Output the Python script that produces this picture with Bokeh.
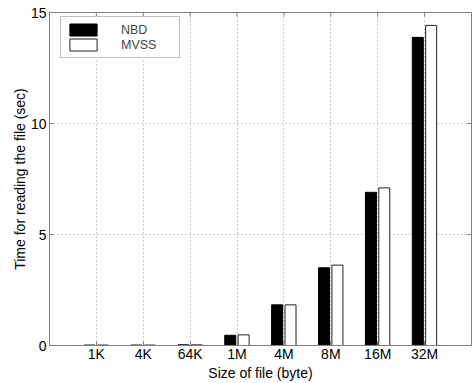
from bokeh.plotting import figure
from bokeh.models import Range1d, FixedTicker, Legend, LegendItem
from bokeh.embed import file_html
from bokeh.resources import INLINE

sizes = ["1K", "4K", "64K", "1M", "4M", "8M", "16M", "32M"]
nbd = [0.02, 0.02, 0.03, 0.46, 1.83, 3.50, 6.90, 13.88]
mvss = [0.02, 0.02, 0.03, 0.48, 1.83, 3.62, 7.10, 14.42]
y_ticks = [0, 5, 10, 15]

FONT = "Liberation Sans"
GRAY = "#7f7f7f"
W, H = 472, 383
LEFT, RIGHT, TOP, BOTTOM = 49, 1, 12, 38

pos = list(range(1, len(sizes) + 1))
x_end = len(sizes) + 1
y_end = y_ticks[-1]

p = figure(width=W, height=H, output_backend="svg", toolbar_location=None,
           x_range=Range1d(0, x_end), y_range=Range1d(0, y_end),
           min_border_left=LEFT, min_border_right=RIGHT,
           min_border_top=TOP, min_border_bottom=BOTTOM)

bw = 0.235
r1 = p.vbar(x=[v - 0.145 for v in pos], top=nbd, width=bw,
            fill_color="black", line_color="black", line_width=1)
r2 = p.vbar(x=[v + 0.14 for v in pos], top=mvss, width=bw,
            fill_color="white", line_color="#222222", line_width=1)

p.outline_line_color = GRAY
p.outline_line_width = 1

for ax in (p.xaxis[0], p.yaxis[0]):
    ax.axis_line_color = GRAY
    ax.major_tick_line_color = GRAY
    ax.major_tick_in = 4
    ax.major_tick_out = 0
    ax.minor_tick_line_color = None
    ax.major_label_text_font = FONT
    ax.major_label_text_font_size = "14px"
    ax.major_label_text_color = "black"
    ax.axis_label_text_font = FONT
    ax.axis_label_text_font_size = "14px"
    ax.axis_label_text_font_style = "normal"
    ax.axis_label_text_color = "black"

p.yaxis[0].ticker = FixedTicker(ticks=y_ticks)
p.yaxis[0].axis_label = "Time for reading the file (sec)"
p.yaxis[0].axis_label_standoff = 0
p.yaxis[0].major_label_standoff = 3
p.xaxis[0].ticker = FixedTicker(ticks=pos)
p.xaxis[0].major_label_overrides = {v: s for v, s in zip(pos, sizes)}
p.xaxis[0].axis_label = "Size of file (byte)"
p.xaxis[0].axis_label_standoff = 0
p.xaxis[0].major_label_standoff = 0

# inward ticks on the top and right sides of the box
fw = W - LEFT - RIGHT
fh = H - TOP - BOTTOM
tx = 4 * x_end / fw
ty = 4 * y_end / fh
p.segment(x0=pos, y0=[y_end] * len(pos), x1=pos, y1=[y_end - ty] * len(pos),
          line_color=GRAY, line_width=1)
p.segment(x0=[x_end] * len(y_ticks), y0=y_ticks, x1=[x_end - tx] * len(y_ticks), y1=y_ticks,
          line_color=GRAY, line_width=1)

p.xgrid.grid_line_color = "#999999"
p.xgrid.grid_line_dash = "1 3"
p.ygrid.grid_line_color = "#999999"
p.ygrid.grid_line_dash = "1 3"
p.xgrid.ticker = FixedTicker(ticks=pos)
p.ygrid.ticker = FixedTicker(ticks=y_ticks)

leg_h = 40
legend = Legend(items=[LegendItem(label="NBD", renderers=[r1]),
                       LegendItem(label="MVSS", renderers=[r2])],
                location=(11, fh - 6 - leg_h), orientation="vertical",
                glyph_width=34, glyph_height=15, label_height=12, spacing=0,
                label_standoff=21, label_width=53, padding=5, margin=0,
                label_text_font=FONT, label_text_font_size="12.5px",
                border_line_color=GRAY, border_line_width=1,
                background_fill_alpha=1.0)
p.add_layout(legend)

open("out.html", "w").write(file_html(p, INLINE))
